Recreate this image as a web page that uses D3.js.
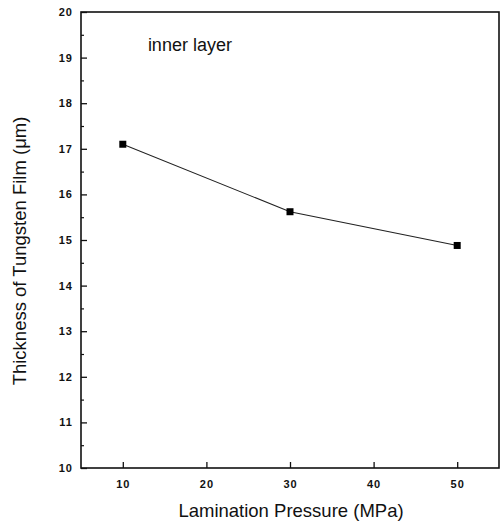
<!DOCTYPE html>
<html lang="en">
<head>
<meta charset="UTF-8">
<title>Thickness vs Lamination Pressure</title>
<style>
	body { margin: 0; background: #fff; }
	svg text { font-family: Arial, "Liberation Sans", sans-serif; fill: #111; }
</style>
</head>
<body>
<script src="https://d3js.org/d3.v7.min.js"></script>
<script>
	// data
	let pressure = [10, 30, 50];
	let thickness = [17.1, 15.62, 14.88];
	let xTicks = [10, 20, 30, 40, 50];
	let yTicks = [10, 11, 12, 13, 14, 15, 16, 17, 18, 19, 20];
	let yMinor = [10.5, 11.5, 12.5, 13.5, 14.5, 15.5, 16.5, 17.5, 18.5, 19.5];

	let width = 501, height = 523;
	let margin = { top: 12, right: 2, bottom: 55, left: 81 };
	let w = width - margin.left - margin.right;
	let h = height - margin.top - margin.bottom;

	let svg = d3.select('body').append('svg')
		.attr('width', width)
		.attr('height', height);
	let g = svg.append('g')
		.attr('transform', 'translate(' + margin.left + ',' + margin.top + ')');

	let xScale = d3.scaleLinear().domain([5, 55]).range([0, w]);
	let yScale = d3.scaleLinear().domain([10, 20]).range([h, 0]);

	// frame
	g.append('rect')
		.attr('width', w).attr('height', h)
		.attr('fill', 'none').attr('stroke', '#111').attr('stroke-width', 1.6);

	// x axis, ticks inside
	let xAxis = d3.axisBottom(xScale).tickValues(xTicks).tickSize(-6).tickPadding(12);
	let gx = g.append('g').attr('transform', 'translate(0,' + h + ')').call(xAxis);
	gx.select('.domain').remove();
	gx.selectAll('line').attr('stroke', '#111').attr('stroke-width', 1.3);
	gx.selectAll('text').attr('font-size', 11).attr('font-weight', 'bold').attr('fill', '#111')
		.attr('letter-spacing', 1);

	// y axis, ticks inside
	let yAxis = d3.axisLeft(yScale).tickValues(yTicks).tickSize(-6).tickPadding(8);
	let gy = g.append('g').call(yAxis);
	gy.select('.domain').remove();
	gy.selectAll('line').attr('stroke', '#111').attr('stroke-width', 1.3);
	gy.selectAll('text').attr('font-size', 11).attr('font-weight', 'bold').attr('fill', '#111')
		.attr('letter-spacing', 1);

	let gyMinor = g.append('g').call(d3.axisLeft(yScale).tickValues(yMinor).tickSize(-3).tickFormat(''));
	gyMinor.select('.domain').remove();
	gyMinor.selectAll('line').attr('stroke', '#111').attr('stroke-width', 1.2);

	// line
	let pts = pressure.map(function(d, i) { return [d, thickness[i]]; });
	let line = d3.line()
		.x(function(d) { return xScale(d[0]); })
		.y(function(d) { return yScale(d[1]); });
	g.append('path')
		.attr('d', line(pts))
		.attr('fill', 'none')
		.attr('stroke', '#222')
		.attr('stroke-width', 1.1);

	g.selectAll('rect.pt')
		.data(pts)
		.enter()
		.append('rect')
		.attr('class', 'pt')
		.attr('x', function(d) { return xScale(d[0]) - 3.5; })
		.attr('y', function(d) { return yScale(d[1]) - 3.5; })
		.attr('width', 7).attr('height', 7)
		.attr('fill', '#000');

	// annotation
	g.append('text')
		.attr('x', xScale(13.0))
		.attr('y', yScale(19.15))
		.attr('font-size', 18)
		.text('inner layer');

	// axis titles
	svg.append('text')
		.attr('x', 291)
		.attr('y', 517)
		.attr('text-anchor', 'middle')
		.attr('font-size', 18.5)
		.text('Lamination Pressure (MPa)');

	svg.append('text')
		.attr('transform', 'translate(26,251) rotate(-90)')
		.attr('text-anchor', 'middle')
		.attr('font-size', 18.5)
		.text('Thickness of Tungsten Film (\u03bcm)');
</script>
</body>
</html>
